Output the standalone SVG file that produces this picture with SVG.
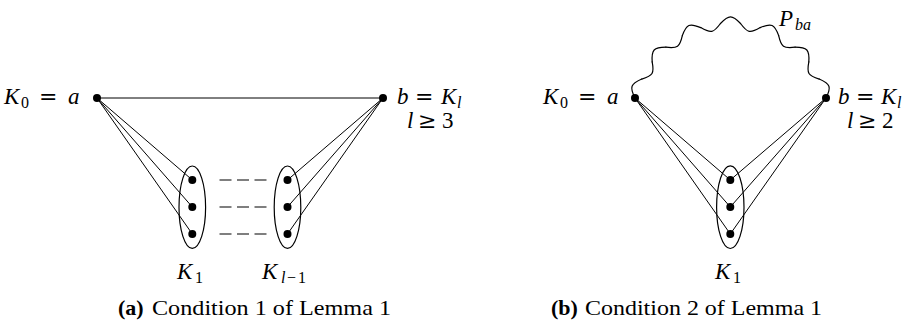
<svg xmlns="http://www.w3.org/2000/svg" width="911" height="328" viewBox="0 0 911 328">
<style>
text{font-size:23px;fill:#000}
.i{font-style:italic}
.s{font-size:16px}
.op{font-family:'DejaVu Serif','Liberation Serif',serif;font-size:22px}
.cap{font-size:22px}
.b{font-weight:bold}
.e{stroke:#000;stroke-width:1;fill:none}
.set{stroke:#000;stroke-width:1.2;fill:none}
.dash{stroke:#000;stroke-width:1.2;stroke-dasharray:12 5.5;fill:none}
.dot{fill:#000}
.wave{stroke:#000;stroke-width:1.2;fill:none;stroke-linecap:round}
</style>
<defs>
<path id="wo" class="wave" d="M720.449,23.515 C728.8,14.6 732.2,14.6 740.551,23.515"/>
<path id="wi" class="wave" d="M720.449,23.515 C729.2,31.4 731.8,31.4 740.551,23.515"/>
</defs>
<rect width="911" height="328" fill="#fff"/>

<g id="connectors">
  <path class="e" d="M97,98 L383,98"/>
  <path class="e" d="M97,98 L192.3,180 M97,98 L192.3,207 M97,98 L192.3,234"/>
  <path class="e" d="M383,98 L287.5,180 M383,98 L287.5,207 M383,98 L287.5,234"/>
  <path class="dash" d="M219.5,180 H266.5 M219.5,207 H266.5 M219.5,234 H266.5"/>
  <path class="e" d="M635,98 L730.3,180 M635,98 L730.3,207 M635,98 L730.3,234"/>
  <path class="e" d="M826,98 L730.3,180 M826,98 L730.3,207 M826,98 L730.3,234"/>
  <g id="path-Pba">
    <use href="#wo" transform="rotate(-70.421 730.5 121.3)"/>
    <use href="#wi" transform="rotate(-58.684 730.5 121.3)"/>
    <use href="#wo" transform="rotate(-46.947 730.5 121.3)"/>
    <use href="#wi" transform="rotate(-35.211 730.5 121.3)"/>
    <use href="#wo" transform="rotate(-23.474 730.5 121.3)"/>
    <use href="#wi" transform="rotate(-11.737 730.5 121.3)"/>
    <use href="#wo"/>
    <use href="#wi" transform="rotate(11.737 730.5 121.3)"/>
    <use href="#wo" transform="rotate(23.474 730.5 121.3)"/>
    <use href="#wi" transform="rotate(35.211 730.5 121.3)"/>
    <use href="#wo" transform="rotate(46.947 730.5 121.3)"/>
    <use href="#wi" transform="rotate(58.684 730.5 121.3)"/>
    <use href="#wo" transform="rotate(70.421 730.5 121.3)"/>
  </g>
  <text id="label-Pba" font-family="Liberation Serif"><tspan x="779" y="26" class="i">P</tspan><tspan x="795" y="30" class="i s">ba</tspan></text>
</g>

<g id="a-node-a">
  <circle class="dot" cx="97" cy="98" r="4"/>
  <text y="104" font-family="Liberation Serif"><tspan x="4" class="i">K</tspan><tspan x="21" y="108" class="s">0</tspan><tspan x="39" y="104" class="op">=</tspan><tspan x="68" class="i">a</tspan></text>
</g>
<g id="a-node-b">
  <circle class="dot" cx="383" cy="98" r="4"/>
  <text y="104" font-family="Liberation Serif"><tspan x="397" class="i">b</tspan><tspan x="415" class="op">=</tspan><tspan x="441" class="i">K</tspan><tspan x="457" y="108" class="i s">l</tspan></text>
  <text y="128" font-family="Liberation Serif"><tspan x="407" class="i">l</tspan><tspan x="418" class="op">≥</tspan><tspan x="442">3</tspan></text>
</g>
<g id="a-node-K1">
  <ellipse class="set" cx="192.3" cy="207.2" rx="13.3" ry="41.2"/>
  <circle class="dot" cx="192.3" cy="180" r="4"/>
  <circle class="dot" cx="192.3" cy="207" r="4"/>
  <circle class="dot" cx="192.3" cy="234" r="4"/>
  <text y="279" font-family="Liberation Serif"><tspan x="177" class="i">K</tspan><tspan x="195" y="283" class="s">1</tspan></text>
</g>
<g id="a-node-Kl-1">
  <ellipse class="set" cx="287.5" cy="207.2" rx="13.3" ry="41.2"/>
  <circle class="dot" cx="287.5" cy="180" r="4"/>
  <circle class="dot" cx="287.5" cy="207" r="4"/>
  <circle class="dot" cx="287.5" cy="234" r="4"/>
  <text y="279" font-family="Liberation Serif"><tspan x="262" class="i">K</tspan><tspan x="281" y="283" class="i s">l</tspan><tspan x="287" y="283" class="s">−</tspan><tspan x="298" y="283" class="s">1</tspan></text>
</g>

<g id="b-node-a">
  <circle class="dot" cx="635" cy="98" r="4"/>
  <text y="104" font-family="Liberation Serif"><tspan x="543" class="i">K</tspan><tspan x="560" y="108" class="s">0</tspan><tspan x="578" y="104" class="op">=</tspan><tspan x="607" class="i">a</tspan></text>
</g>
<g id="b-node-b">
  <circle class="dot" cx="826" cy="98" r="4"/>
  <text y="104" font-family="Liberation Serif"><tspan x="838" class="i">b</tspan><tspan x="856" class="op">=</tspan><tspan x="881" class="i">K</tspan><tspan x="897" y="108" class="i s">l</tspan></text>
  <text y="128" font-family="Liberation Serif"><tspan x="847" class="i">l</tspan><tspan x="858" class="op">≥</tspan><tspan x="882">2</tspan></text>
</g>
<g id="b-node-K1">
  <ellipse class="set" cx="730.3" cy="207.2" rx="13.7" ry="41.3"/>
  <circle class="dot" cx="730.3" cy="180" r="4"/>
  <circle class="dot" cx="730.3" cy="207" r="4"/>
  <circle class="dot" cx="730.3" cy="234" r="4"/>
  <text y="279" font-family="Liberation Serif"><tspan x="715" class="i">K</tspan><tspan x="733" y="283" class="s">1</tspan></text>
</g>

<g id="captions" font-family="Liberation Serif">
  <text class="cap" y="315"><tspan x="118" class="b">(a)</tspan></text>
  <text class="cap" x="152" y="315" textLength="239" lengthAdjust="spacingAndGlyphs">Condition 1 of Lemma 1</text>
  <text class="cap" y="315"><tspan x="551" class="b">(b)</tspan></text>
  <text class="cap" x="585" y="315" textLength="237" lengthAdjust="spacingAndGlyphs">Condition 2 of Lemma 1</text>
</g>
</svg>
